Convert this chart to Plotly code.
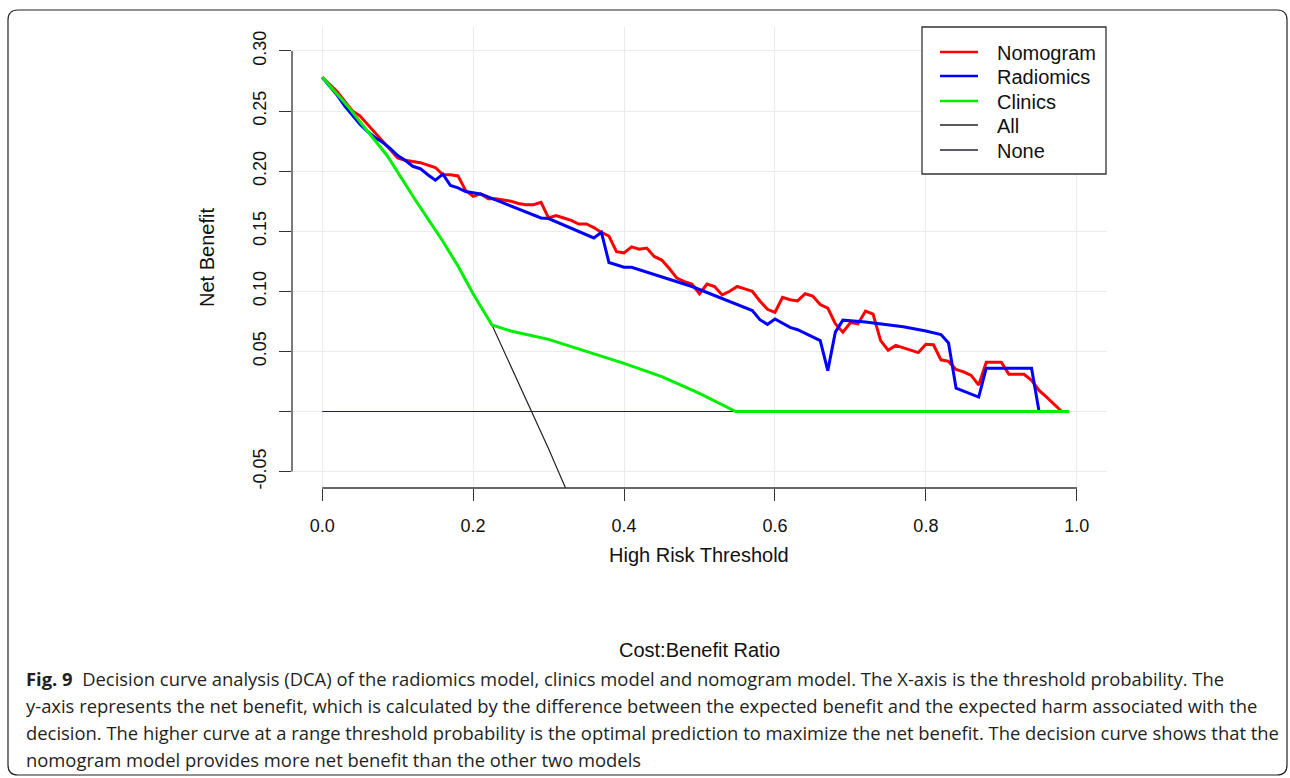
import plotly.graph_objects as go

# ---------------- data ----------------
nomo_x = [0.00, 0.02, 0.03, 0.04, 0.05, 0.06, 0.07, 0.08, 0.09, 0.10,
          0.11, 0.12, 0.13, 0.14, 0.15, 0.16, 0.17, 0.18, 0.19, 0.20,
          0.21, 0.22, 0.23, 0.24, 0.25, 0.26, 0.27, 0.28, 0.29, 0.30,
          0.31, 0.32, 0.33, 0.34, 0.35, 0.36, 0.37, 0.38, 0.39, 0.40,
          0.41, 0.42, 0.43, 0.44, 0.45, 0.46, 0.47, 0.48, 0.49, 0.50,
          0.51, 0.52, 0.53, 0.54, 0.55, 0.56, 0.57, 0.58, 0.59, 0.60,
          0.61, 0.62, 0.63, 0.64, 0.65, 0.66, 0.67, 0.68, 0.69, 0.70,
          0.71, 0.72, 0.73, 0.74, 0.75, 0.76, 0.77, 0.78, 0.79, 0.80,
          0.81, 0.82, 0.83, 0.84, 0.85, 0.86, 0.87, 0.88, 0.89, 0.90,
          0.91, 0.92, 0.93, 0.94, 0.95, 0.96, 0.97, 0.98]
nomo_y = [0.278, 0.266, 0.258, 0.250, 0.246, 0.239, 0.232, 0.225, 0.218, 0.211,
          0.209, 0.208, 0.207, 0.205, 0.203, 0.197, 0.197, 0.196, 0.184, 0.179,
          0.181, 0.177, 0.177, 0.176, 0.175, 0.173, 0.172, 0.172, 0.174, 0.161,
          0.163, 0.161, 0.159, 0.156, 0.156, 0.153, 0.149, 0.146, 0.133, 0.132,
          0.137, 0.135, 0.136, 0.129, 0.126, 0.119, 0.111, 0.108, 0.106, 0.098,
          0.106, 0.104, 0.097, 0.100, 0.104, 0.102, 0.100, 0.092, 0.085, 0.0825,
          0.095, 0.093, 0.092, 0.098, 0.096, 0.089, 0.086, 0.073, 0.066, 0.074,
          0.073, 0.0836, 0.081, 0.059, 0.051, 0.055, 0.053, 0.051, 0.049, 0.056,
          0.0555, 0.043, 0.0417, 0.035, 0.033, 0.030, 0.022, 0.041, 0.041, 0.041,
          0.031, 0.031, 0.031, 0.026, 0.0175, 0.012, 0.006, 0.000]

radi_x = [0.00, 0.02, 0.03, 0.04, 0.05, 0.06, 0.07, 0.08, 0.09, 0.10,
          0.11, 0.12, 0.13, 0.14, 0.15, 0.16, 0.17, 0.18, 0.19, 0.20,
          0.21, 0.29, 0.30, 0.36, 0.37, 0.38, 0.40, 0.41, 0.49, 0.57,
          0.58, 0.59, 0.60, 0.62, 0.63, 0.66, 0.67, 0.68, 0.69, 0.72,
          0.77, 0.80, 0.82, 0.83, 0.84, 0.87, 0.88, 0.94, 0.95]
radi_y = [0.278, 0.263, 0.254, 0.246, 0.239, 0.233, 0.228, 0.224, 0.219, 0.213,
          0.209, 0.204, 0.202, 0.197, 0.1925, 0.1975, 0.188, 0.186, 0.183, 0.182,
          0.181, 0.161, 0.1605, 0.1444, 0.149, 0.124, 0.120, 0.120, 0.104, 0.084,
          0.0764, 0.0725, 0.077, 0.070, 0.068, 0.059, 0.034, 0.066, 0.076, 0.0745,
          0.0705, 0.067, 0.064, 0.057, 0.0194, 0.012, 0.036, 0.036, 0.000]

clin_x = [0.00, 0.034, 0.059, 0.086, 0.1235, 0.159, 0.18, 0.20,
          0.225, 0.25, 0.30, 0.316, 0.35, 0.40, 0.45, 0.50, 0.548, 0.99]
clin_y = [0.278, 0.254, 0.234, 0.213, 0.176, 0.1425, 0.121, 0.098,
          0.072, 0.067, 0.060, 0.057, 0.050, 0.040, 0.029, 0.015, 0.000, 0.000]

all_x = [0.00, 0.034, 0.059, 0.086, 0.1235, 0.159, 0.18, 0.20,
         0.225, 0.25, 0.28, 0.30, 0.3227, 0.35]
all_y = [0.278, 0.254, 0.234, 0.213, 0.176, 0.1425, 0.121, 0.098,
         0.072, 0.038, -0.003, -0.031, -0.064, -0.110]

none_x = [0.00, 0.99]
none_y = [0.00, 0.00]

x_ticks = [0.0, 0.2, 0.4, 0.6, 0.8, 1.0]
x_ticklabels = ["0.0", "0.2", "0.4", "0.6", "0.8", "1.0"]
y_ticks = [-0.05, 0.00, 0.05, 0.10, 0.15, 0.20, 0.25, 0.30]
y_ticklabels = ["-0.05", "", "0.05", "0.10", "0.15", "0.20", "0.25", "0.30"]

series_names = ["Nomogram", "Radiomics", "Clinics", "All", "None"]
series_colors = ["#ff0000", "#0000ff", "#00ee00", "#222222", "#1f2340"]
series_widths = [3, 3, 3, 1.2, 1.2]

caption_lines = [
    "<b>Fig. 9</b>  Decision curve analysis (DCA) of the radiomics model, clinics model and nomogram model. The X-axis is the threshold probability. The",
    "y-axis represents the net benefit, which is calculated by the difference between the expected benefit and the expected harm associated with the",
    "decision. The higher curve at a range threshold probability is the optimal prediction to maximize the net benefit. The decision curve shows that the",
    "nomogram model provides more net benefit than the other two models",
]

# ---------------- layout geometry (pixels) ----------------
W, H = 1290, 778
PL, PR, PT, PB = 292, 1107, 27, 488   # plot area edges


def px2x(px):
    return (px - PL) / (PR - PL)


def py2y(py):
    return (PB - py) / (PB - PT)


FONT = "Liberation Sans, Arial, sans-serif"
TXT = "#111111"

data_xy = {
    "Nomogram": (nomo_x, nomo_y),
    "Radiomics": (radi_x, radi_y),
    "Clinics": (clin_x, clin_y),
    "All": (all_x, all_y),
    "None": (none_x, none_y),
}
draw_order = ["All", "None", "Nomogram", "Radiomics", "Clinics"]

fig = go.Figure()
for nm in draw_order:
    i = series_names.index(nm)
    xs, ys = data_xy[nm]
    fig.add_trace(go.Scatter(x=xs, y=ys, mode="lines", name=nm, showlegend=False,
                             line=dict(color=series_colors[i], width=series_widths[i])))

shapes = []
# y axis line (R style, only between extreme ticks)
shapes.append(dict(type="line", xref="paper", yref="y", x0=0, x1=0,
                   y0=y_ticks[0], y1=y_ticks[-1], line=dict(color="#333333", width=1.3)))
# x axis line
shapes.append(dict(type="line", xref="x", yref="paper", x0=x_ticks[0], x1=x_ticks[-1],
                   y0=0, y1=0, line=dict(color="#333333", width=1.3)))

# outer rounded frame
bx0, bx1, by0, by1, r = 8, 1287, 10, 775, 10


def P(px, py):
    return f"{px2x(px):.5f},{py2y(py):.5f}"


path = (f"M {P(bx0 + r, by0)} L {P(bx1 - r, by0)} Q {P(bx1, by0)} {P(bx1, by0 + r)} "
        f"L {P(bx1, by1 - r)} Q {P(bx1, by1)} {P(bx1 - r, by1)} "
        f"L {P(bx0 + r, by1)} Q {P(bx0, by1)} {P(bx0, by1 - r)} "
        f"L {P(bx0, by0 + r)} Q {P(bx0, by0)} {P(bx0 + r, by0)} Z")
shapes.append(dict(type="path", xref="paper", yref="paper", path=path,
                   line=dict(color="#222222", width=1.2)))

annotations = []

# legend (R style box)
LX0, LX1, LY0, LY1 = 922, 1106, 27, 174
shapes.append(dict(type="rect", xref="paper", yref="paper",
                   x0=px2x(LX0), x1=px2x(LX1), y0=py2y(LY0), y1=py2y(LY1),
                   fillcolor="white", line=dict(color="#333333", width=1.3), layer="above"))
row_y = [52, 76, 101, 125, 150]
for i, nm in enumerate(series_names):
    shapes.append(dict(type="line", xref="paper", yref="paper",
                       x0=px2x(940), x1=px2x(978), y0=py2y(row_y[i]), y1=py2y(row_y[i]),
                       line=dict(color=series_colors[i], width=min(series_widths[i], 2.5) if i < 3 else 1.3),
                       layer="above"))
    annotations.append(dict(text=nm, xref="paper", yref="paper", x=px2x(995), y=py2y(row_y[i] + 1),
                            showarrow=False, xanchor="left", yanchor="middle",
                            font=dict(family=FONT, size=20, color=TXT)))

annotations.append(dict(text="Net Benefit", xref="paper", yref="paper",
                        x=px2x(207), y=py2y(258), textangle=-90, showarrow=False,
                        xanchor="center", yanchor="middle",
                        font=dict(family=FONT, size=20, color=TXT)))
annotations.append(dict(text="High Risk Threshold", xref="paper", yref="paper",
                        x=px2x(699), y=py2y(555), showarrow=False,
                        xanchor="center", yanchor="middle",
                        font=dict(family=FONT, size=20, color=TXT)))
annotations.append(dict(text="Cost:Benefit Ratio", xref="paper", yref="paper",
                        x=px2x(699), y=py2y(650), showarrow=False,
                        xanchor="center", yanchor="middle",
                        font=dict(family=FONT, size=20, color=TXT)))
cap_y = [678, 705, 732, 759]
for line, yy in zip(caption_lines, cap_y):
    annotations.append(dict(text=line, xref="paper", yref="paper",
                            x=px2x(24), y=py2y(yy), showarrow=False,
                            xanchor="left", yanchor="middle", align="left",
                            font=dict(family="Open Sans, sans-serif", size=18.4,
                                      color="#231f20")))

fig.update_layout(
    width=W, height=H,
    margin=dict(l=PL, r=W - PR, t=PT, b=H - PB, pad=0),
    paper_bgcolor="white", plot_bgcolor="white",
    font=dict(family=FONT, size=17, color=TXT),
    showlegend=False,
    shapes=shapes,
    annotations=annotations,
)
fig.update_xaxes(range=[-0.04, 1.04], tickvals=x_ticks, ticktext=x_ticklabels,
                 showgrid=True, gridcolor="#ebebeb", gridwidth=1, zeroline=False,
                 showline=False, ticks="outside", ticklen=12, tickcolor="#333333",
                 tickwidth=1.3, ticklabelstandoff=9,
                 tickfont=dict(family=FONT, size=18, color=TXT))
fig.update_yaxes(range=[(411.5 - PB) / 1202.0, (411.5 - PT) / 1202.0],
                 tickvals=y_ticks, ticktext=y_ticklabels, tickangle=-90,
                 showgrid=True, gridcolor="#ebebeb", gridwidth=1, zeroline=False,
                 showline=False, ticks="outside", ticklen=12, tickcolor="#333333",
                 tickwidth=1.3, ticklabelstandoff=6,
                 tickfont=dict(family=FONT, size=18, color=TXT))

fig.write_html("out.html",
               config={"displayModeBar": False},
               post_script="document.body.style.margin='0';document.body.style.overflow='hidden';")
